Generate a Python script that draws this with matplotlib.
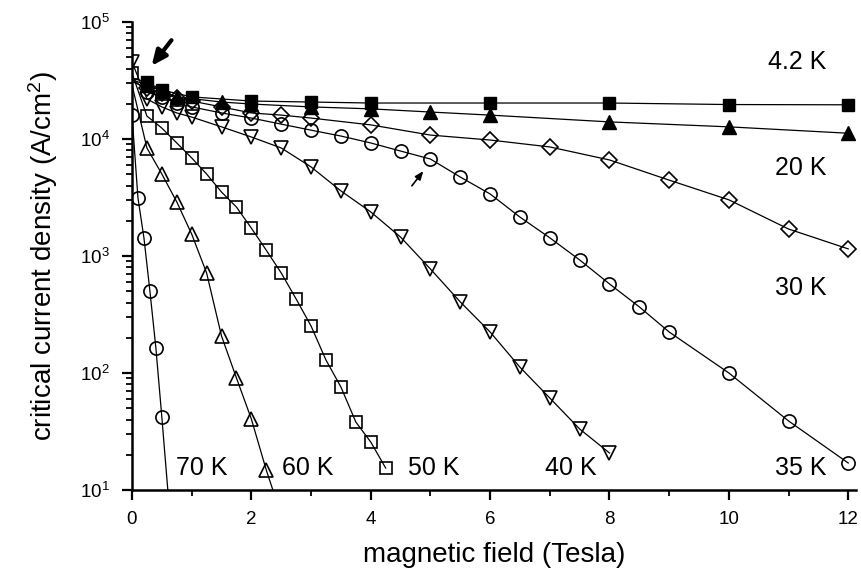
import matplotlib
matplotlib.use("Agg")
import matplotlib.pyplot as plt
from matplotlib.ticker import LogLocator, LogFormatterMathtext, MultipleLocator, NullFormatter

# field (Tesla) and critical current density (A/cm^2) for each temperature
b_4k = [0, 0.25, 0.5, 1, 2, 3, 4, 6, 8, 10, 12]
j_4k = [33000, 30700, 26200, 22900, 21100, 20700, 20300, 20300, 20300, 19700, 19600]

b_20k = [0, 0.25, 0.5, 0.75, 1.5, 2, 3, 4, 5, 6, 8, 10, 12]
j_20k = [32000, 29000, 25700, 22900, 20700, 19900, 18800, 18100, 17000, 16000, 14000, 12700, 11200]

b_30k = [0, 0.25, 0.5, 0.75, 1, 1.5, 2, 2.5, 3, 4, 5, 6, 7, 8, 9, 10, 11, 12]
j_30k = [31000, 27300, 24700, 22400, 21100, 18800, 16700, 16000, 15100, 13200, 10800,
         9800, 8550, 6620, 4450, 3020, 1700, 1150]

b_35k = [0, 0.25, 0.5, 0.75, 1, 1.5, 2, 2.5, 3, 3.5, 4, 4.5, 5, 5.5, 6, 6.5, 7, 7.5,
         8, 8.5, 9, 10, 11, 12]
j_35k = [33200, 25200, 22900, 20300, 18800, 16700, 15100, 13400, 11900, 10600, 9250,
         7890, 6740, 4730, 3390, 2150, 1430, 925, 577, 367, 224, 100, 38.9, 17.0]

b_40k = [0, 0.25, 0.5, 0.75, 1, 1.5, 2, 2.5, 3, 3.5, 4, 4.5, 5, 5.5, 6, 6.5, 7, 7.5, 8]
j_40k = [45500, 22000, 18800, 16700, 15400, 12700, 10400, 8380, 5770, 3600, 2380, 1450,
         774, 405, 224, 112, 61.1, 33.2, 20.7]

b_50k = [0, 0.25, 0.5, 0.75, 1, 1.25, 1.5, 1.75, 2, 2.25, 2.5, 2.75, 3, 3.25, 3.5,
         3.75, 4, 4.25]
j_50k = [36600, 15700, 12400, 9250, 6890, 5020, 3520, 2620, 1730, 1120, 716, 429, 252,
         129, 75.9, 38.1, 25.7, 15.4]

# last point of 60 K and 70 K: where the fit line leaves the frame (no symbol)
b_60k = [0, 0.25, 0.5, 0.75, 1, 1.25, 1.5, 1.75, 2, 2.25, 2.36]
j_60k = [29000, 8380, 5020, 2900, 1540, 716, 207, 90.6, 40.4, 14.8, 10]

b_70k = [0, 0.1, 0.2, 0.3, 0.4, 0.5, 0.6]
j_70k = [16000, 3130, 1430, 502, 164, 42, 10]

plt.rcParams['font.family'] = ['Liberation Sans', 'DejaVu Sans']
plt.rcParams['mathtext.fontset'] = 'custom'
plt.rcParams['mathtext.rm'] = 'Liberation Sans'
plt.rcParams['mathtext.it'] = 'Liberation Sans:italic'

fig = plt.figure(figsize=(8.61, 5.70), dpi=100)
ax = fig.add_axes([0.1533, 0.1404, 0.8409, 0.821])

lw = 0.9
mew = 1.2
ax.plot(b_4k, j_4k, 'k-', lw=lw, marker='s', ms=9, mfc='k', mec='k', markevery=list(range(1, len(b_4k))))
ax.plot(b_20k, j_20k, 'k-', lw=lw, marker='^', ms=10.5, mfc='k', mec='k', markevery=list(range(1, len(b_20k))))
ax.plot(b_30k, j_30k, 'k-', lw=lw, marker='D', ms=7.7, mfc='none', mec='k', mew=mew, markevery=list(range(1, len(b_30k))))
ax.plot(b_35k, j_35k, 'k-', lw=lw, marker='o', ms=9.5, mfc='none', mec='k', mew=mew, markevery=list(range(1, len(b_35k))))
ax.plot(b_40k, j_40k, 'k-', lw=lw, marker='v', ms=10.5, mfc='none', mec='k', mew=mew)
ax.plot(b_50k, j_50k, 'k-', lw=lw, marker='s', ms=9, mfc='none', mec='k', mew=mew)
ax.plot(b_60k, j_60k, 'k-', lw=lw, marker='^', ms=10.5, mfc='none', mec='k', mew=mew, markevery=list(range(1, len(b_60k) - 1)))
ax.plot(b_70k, j_70k, 'k-', lw=lw, marker='o', ms=9.5, mfc='none', mec='k', mew=mew, markevery=list(range(0, len(b_70k) - 1)))

ax.set_yscale('log')
ax.set_xlim(0, 12.13)
ax.set_ylim(10, 1e5)

for s in ['top', 'right']:
    ax.spines[s].set_visible(False)
for s in ['left', 'bottom']:
    ax.spines[s].set_linewidth(1.8)

ax.xaxis.set_major_locator(MultipleLocator(2))
ax.xaxis.set_minor_locator(MultipleLocator(1))
ax.yaxis.set_major_locator(LogLocator(base=10, numticks=10))
ax.yaxis.set_minor_locator(LogLocator(base=10, subs=range(2, 10), numticks=50))
ax.yaxis.set_major_formatter(LogFormatterMathtext())
ax.yaxis.set_minor_formatter(NullFormatter())
ax.tick_params(which='major', direction='out', length=7, width=1.6, labelsize=13.5)
ax.tick_params(which='minor', direction='out', length=4, width=1.3)
ax.tick_params(axis='x', which='major', pad=8.5)
ax.tick_params(axis='y', which='major', pad=9)

ax.set_xlabel('magnetic field (Tesla)', fontsize=20, labelpad=10)
ax.set_ylabel('critical current density (A/cm$^2$)', fontsize=20, labelpad=14)

fs = 18
ax.text(11.63, 45500, '4.2 K', ha='right', va='center', fontsize=fs)
ax.text(11.63, 5650, '20 K', ha='right', va='center', fontsize=fs)
ax.text(11.63, 532, '30 K', ha='right', va='center', fontsize=fs)
ax.text(11.63, 15.4, '35 K', ha='right', va='center', fontsize=fs)
ax.text(7.35, 15.4, '40 K', ha='center', va='center', fontsize=fs)
ax.text(5.06, 15.4, '50 K', ha='center', va='center', fontsize=fs)
ax.text(2.95, 15.4, '60 K', ha='center', va='center', fontsize=fs)
ax.text(1.17, 15.4, '70 K', ha='center', va='center', fontsize=fs)

ax.annotate('', xy=(0.30, 40400), xytext=(0.69, 73000),
            arrowprops=dict(arrowstyle='-|>,head_length=0.9,head_width=0.4', lw=3, color='k'))
ax.annotate('', xy=(4.91, 5550), xytext=(4.66, 3810),
            arrowprops=dict(arrowstyle='-|>,head_length=0.5,head_width=0.2', lw=1.2, color='k'))

fig.savefig('out.png', dpi=100)
